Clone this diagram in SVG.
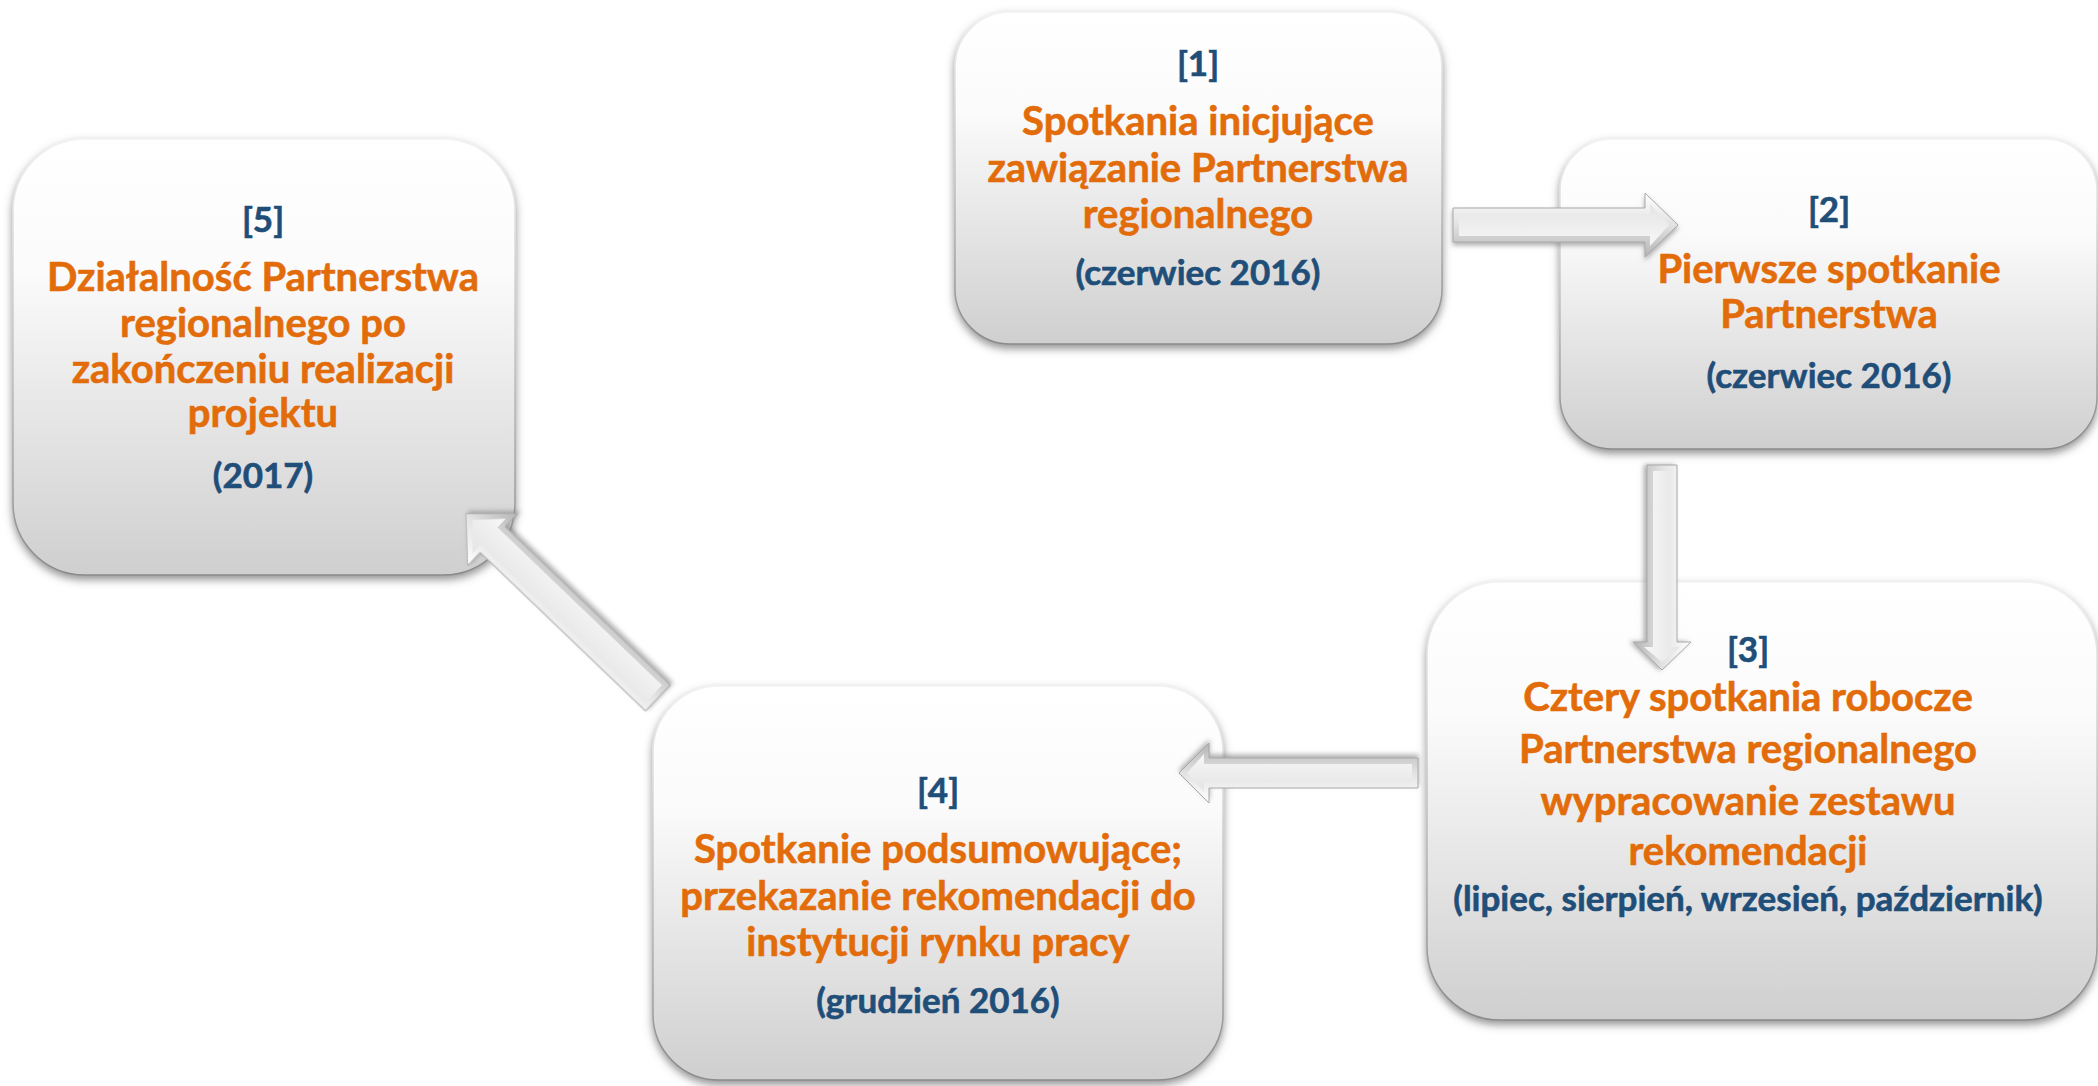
<svg xmlns="http://www.w3.org/2000/svg" width="2098" height="1086" viewBox="0 0 2098 1086">
<defs>
  <linearGradient id="boxFill" x1="0" y1="0" x2="0" y2="1">
    <stop offset="0" stop-color="#FFFFFF"/>
    <stop offset="0.3" stop-color="#FBFBFB"/>
    <stop offset="1" stop-color="#CFCFCF"/>
  </linearGradient>
  <linearGradient id="boxStroke" x1="0" y1="0" x2="0" y2="1">
    <stop offset="0" stop-color="#F2F2F2"/>
    <stop offset="0.5" stop-color="#C4C4C4"/>
    <stop offset="1" stop-color="#8A8A8A"/>
  </linearGradient>
  <linearGradient id="arrOuter" x1="0" y1="0" x2="0" y2="1">
    <stop offset="0" stop-color="#FFFFFF"/>
    <stop offset="0.5" stop-color="#E2E2E2"/>
    <stop offset="1" stop-color="#B4B4B4"/>
  </linearGradient>
  <linearGradient id="arrInner" x1="0" y1="0" x2="0" y2="1">
    <stop offset="0" stop-color="#E4E4E4"/>
    <stop offset="1" stop-color="#F7F7F7"/>
  </linearGradient>
  <filter id="shadow" x="-10%" y="-10%" width="120%" height="125%">
    <feGaussianBlur in="SourceAlpha" stdDeviation="4"/>
    <feOffset dx="0" dy="4" result="b"/>
    <feFlood flood-color="#6E6E6E" flood-opacity="0.75"/>
    <feComposite in2="b" operator="in"/>
    <feMerge><feMergeNode/><feMergeNode in="SourceGraphic"/></feMerge>
  </filter>
  <filter id="ashadow" x="-20%" y="-40%" width="140%" height="180%">
    <feGaussianBlur in="SourceAlpha" stdDeviation="2.5"/>
    <feOffset dx="0" dy="3" result="b"/>
    <feFlood flood-color="#7A7A7A" flood-opacity="0.6"/>
    <feComposite in2="b" operator="in"/>
    <feMerge><feMergeNode/><feMergeNode in="SourceGraphic"/></feMerge>
  </filter>
</defs>
<style>
  .box { fill: url(#boxFill); stroke: url(#boxStroke); stroke-width: 1.5; filter: url(#shadow); }
  .t { font-family: Lato, "Open Sans", "Liberation Sans", sans-serif; font-weight: bold; text-anchor: middle; stroke-width: 0.6; }
  .o { fill: #E36C0A; stroke: #E36C0A; font-size: 40px; }
  .b { fill: #1F4E79; stroke: #1F4E79; font-size: 35px; }
  .ao { fill: url(#arrOuter); stroke: #A9A9A9; stroke-width: 1; }
  .ai { fill: url(#arrInner); stroke: none; }
</style>
<rect width="2098" height="1086" fill="#FFFFFF"/>

<g id="node-1">
  <rect class="box" x="955" y="12" width="487" height="332" rx="55" ry="55"/>
  <text class="t b" x="1198" y="76">[1]</text>
  <text class="t o" x="1198" y="135">Spotkania inicjujące</text>
  <text class="t o" x="1198" y="182">zawiązanie Partnerstwa</text>
  <text class="t o" x="1198" y="228">regionalnego</text>
  <text class="t b" x="1198" y="285">(czerwiec 2016)</text>
</g>

<g id="node-2">
  <rect class="box" x="1560" y="139" width="537" height="310" rx="52" ry="52"/>
  <text class="t b" x="1829" y="222">[2]</text>
  <text class="t o" x="1829" y="283">Pierwsze spotkanie</text>
  <text class="t o" x="1829" y="328">Partnerstwa</text>
  <text class="t b" x="1829" y="388">(czerwiec 2016)</text>
</g>

<g id="node-3">
  <rect class="box" x="1427" y="582" width="670" height="438" rx="73" ry="73"/>
  <text class="t b" x="1748" y="662">[3]</text>
  <text class="t o" x="1748" y="711">Cztery spotkania robocze</text>
  <text class="t o" x="1748" y="763">Partnerstwa regionalnego</text>
  <text class="t o" x="1748" y="815">wypracowanie zestawu</text>
  <text class="t o" x="1748" y="865">rekomendacji</text>
  <text class="t b" x="1748" y="911">(lipiec, sierpień, wrzesień, październik)</text>
</g>

<g id="node-4">
  <rect class="box" x="653" y="686" width="570" height="394" rx="66" ry="66"/>
  <text class="t b" x="938" y="803">[4]</text>
  <text class="t o" x="938" y="863">Spotkanie podsumowujące;</text>
  <text class="t o" x="938" y="910">przekazanie rekomendacji do</text>
  <text class="t o" x="938" y="956">instytucji rynku pracy</text>
  <text class="t b" x="938" y="1013">(grudzień 2016)</text>
</g>

<g id="node-5">
  <rect class="box" x="13" y="139" width="502" height="436" rx="72" ry="72"/>
  <text class="t b" x="263" y="232">[5]</text>
  <text class="t o" x="263" y="291">Działalność Partnerstwa</text>
  <text class="t o" x="263" y="337">regionalnego po</text>
  <text class="t o" x="263" y="383">zakończeniu realizacji</text>
  <text class="t o" x="263" y="427">projektu</text>
  <text class="t b" x="263" y="488">(2017)</text>
</g>

<g id="connectors">
  <g id="arrow-1-2" filter="url(#ashadow)" transform="translate(1453,225)">
    <polygon class="ao" points="0,-17 192,-17 192,-32 225,0 192,32 192,17 0,17"/>
    <polygon class="ai" points="6,-11 197,-11 197,-21 216,0 197,21 197,11 6,11"/>
  </g>
  <g id="arrow-2-3" filter="url(#ashadow)" transform="translate(1662,465) rotate(90)">
    <polygon class="ao" points="0,-15 177,-15 177,-29 205,0 177,29 177,15 0,15"/>
    <polygon class="ai" points="6,-9 182,-9 182,-18 197,0 182,18 182,9 6,9"/>
  </g>
  <g id="arrow-3-4" filter="url(#ashadow)" transform="translate(1418,773) rotate(180)">
    <polygon class="ao" points="0,-15 209,-15 209,-30 239,0 209,30 209,15 0,15"/>
    <polygon class="ai" points="6,-9 214,-9 214,-19 231,0 214,19 214,9 6,9"/>
  </g>
  <g id="arrow-4-5" filter="url(#ashadow)" transform="translate(658,698) rotate(223.8)">
    <polygon class="ao" points="0,-18 229,-18 229,-36 266,0 229,36 229,18 0,18"/>
    <polygon class="ai" points="6,-12 234,-12 234,-24 257,0 234,24 234,12 6,12"/>
  </g>
</g>
</svg>
